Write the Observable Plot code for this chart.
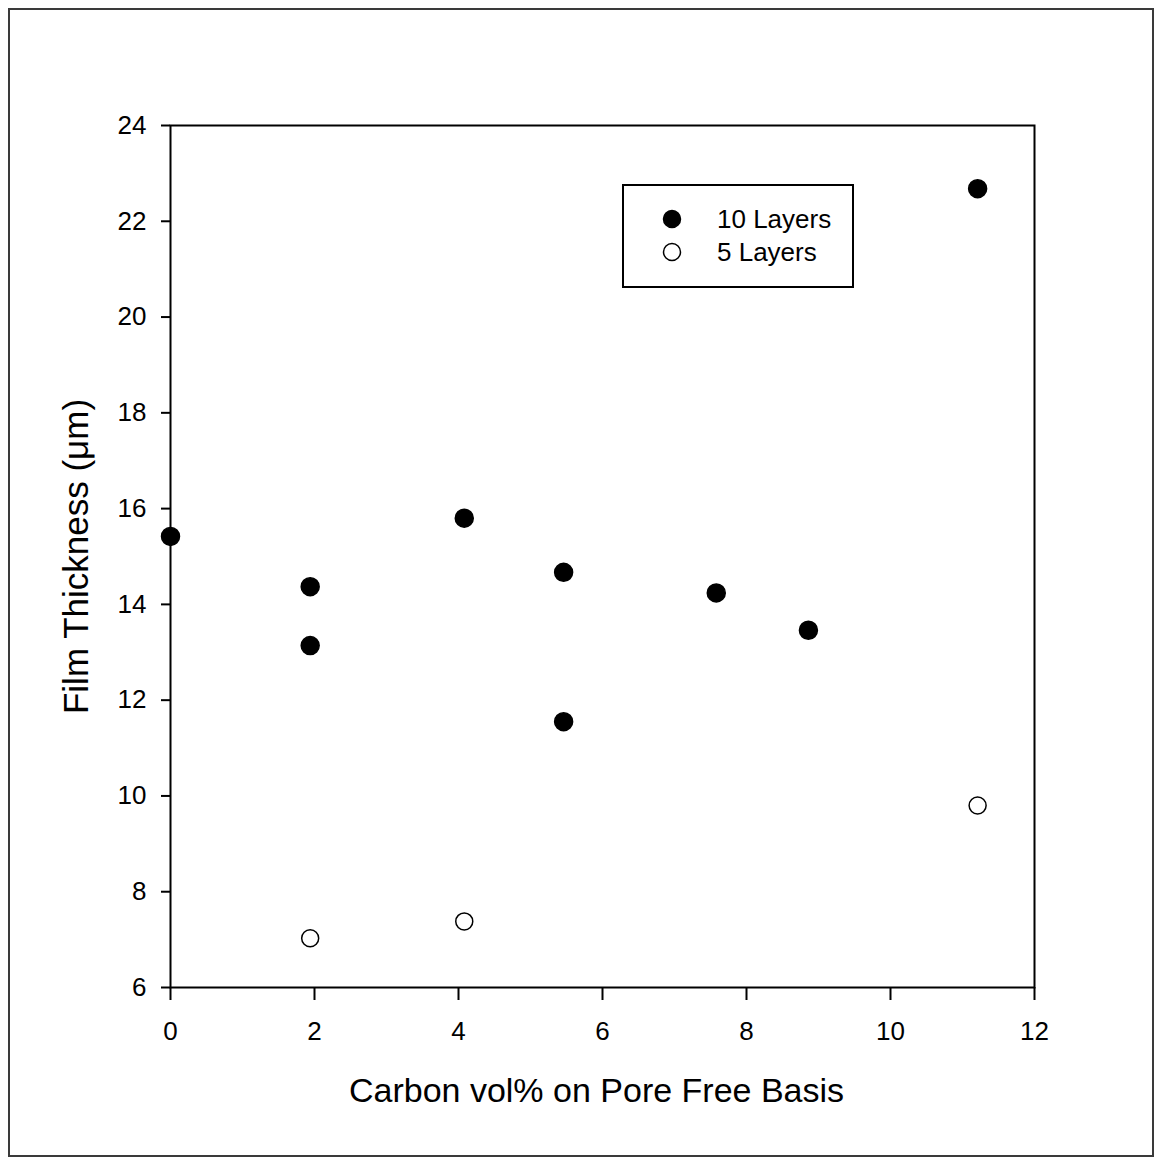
<!DOCTYPE html>
<html>
<head>
<meta charset="utf-8">
<script src="https://cdn.jsdelivr.net/npm/d3@7"></script>
<script src="https://cdn.jsdelivr.net/npm/@observablehq/plot@0.6"></script>
<style>
  html, body { margin: 0; padding: 0; background: #fff; }
  #wrap { position: relative; width: 1160px; height: 1163px; font-family: "Liberation Sans", Arial, sans-serif; }
  #border { position: absolute; left: 8px; top: 8px; width: 1142px; height: 1145px; border: 2px solid #3a3a3a; pointer-events: none; }
  #legend { position: absolute; left: 622px; top: 184px; width: 228px; height: 100px; border: 2px solid #000; background: #fff; }
  #legend .row { position: absolute; left: 0; height: 30px; display: flex; align-items: center; font-size: 26px; line-height: 30px; color: #000; }
  #legend svg { margin-left: 37px; margin-right: 34px; }
</style>
</head>
<body>
<div id="wrap">
  <div id="chart"></div>
  <div id="border"></div>
  <div id="legend"></div>
</div>
<script>
// Carbon content (vol%, pore free basis) vs. film thickness (µm)
const tenLayersCarbon = [0, 1.94, 1.94, 4.08, 5.46, 5.46, 7.58, 8.86, 11.21];
const tenLayersThickness = [15.42, 14.37, 13.14, 15.8, 14.67, 11.55, 14.24, 13.46, 22.68];
const fiveLayersCarbon = [1.94, 4.08, 11.21];
const fiveLayersThickness = [7.03, 7.38, 9.8];
const xTicks = [0, 2, 4, 6, 8, 10, 12];
const yTicks = [6, 8, 10, 12, 14, 16, 18, 20, 22, 24];
const seriesNames = ["10 Layers", "5 Layers"];
const seriesFill = ["black", "white"];

const ten = tenLayersCarbon.map((c, i) => ({carbon: c, thickness: tenLayersThickness[i]}));
const five = fiveLayersCarbon.map((c, i) => ({carbon: c, thickness: fiveLayersThickness[i]}));

const chart = Plot.plot({
  width: 1160,
  height: 1163,
  marginLeft: 170,
  marginRight: 126,
  marginTop: 125,
  marginBottom: 176,
  style: {fontFamily: "'Liberation Sans', Arial, sans-serif", fontSize: "26px", color: "black", background: "transparent"},
  x: {domain: [0, 12]},
  y: {domain: [6, 24]},
  marks: [
    Plot.frame({stroke: "black", strokeWidth: 2}),
    Plot.axisX({ticks: xTicks, tickSize: 13, tickPadding: 21, fontSize: 26, label: null, strokeWidth: 2}),
    Plot.axisY({ticks: yTicks, tickSize: 9, tickPadding: 15, fontSize: 26, label: null, strokeWidth: 2}),
    Plot.text(["Carbon vol% on Pore Free Basis"], {frameAnchor: "bottom", lineAnchor: "middle", textAnchor: "middle", dy: 104, dx: -6, fontSize: 34, fill: "black"}),
    Plot.text(["Film Thickness (μm)"], {frameAnchor: "left", lineAnchor: "middle", textAnchor: "middle", dx: -94, rotate: -90, fontSize: 35, fill: "black"}),
    Plot.dot(ten, {x: "carbon", y: "thickness", r: 9, fill: seriesFill[0], stroke: "black", strokeWidth: 1.5, clip: false}),
    Plot.dot(five, {x: "carbon", y: "thickness", r: 8.5, fill: seriesFill[1], stroke: "black", strokeWidth: 1.5, clip: false})
  ]
});
document.getElementById("chart").appendChild(chart);

// Legend box
const legend = document.getElementById("legend");
seriesNames.forEach((name, i) => {
  const row = document.createElement("div");
  row.className = "row";
  row.style.top = (i === 0 ? 18 : 51) + "px";
  row.innerHTML = `<svg width="22" height="22"><circle cx="11" cy="11" r="8.5" fill="${seriesFill[i]}" stroke="black" stroke-width="1.5"/></svg><span>${name}</span>`;
  legend.appendChild(row);
});
</script>
</body>
</html>
